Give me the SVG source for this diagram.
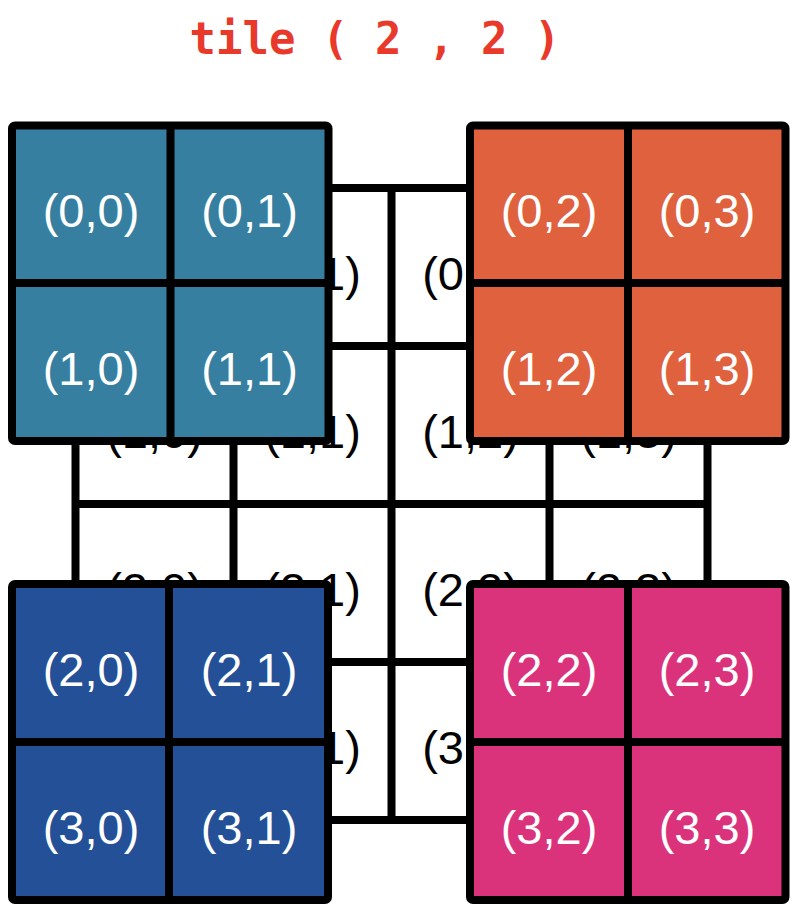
<svg xmlns="http://www.w3.org/2000/svg" width="800" height="918" viewBox="0 0 800 918">
<style>
.title{font-family:"DejaVu Sans Mono","Liberation Mono",monospace;font-weight:bold;font-size:44px;fill:#e8392b;text-anchor:middle}
.lbl{font-family:"Liberation Sans",Arial,sans-serif;font-size:47px;text-anchor:middle}
.bg{fill:#000}
.w{fill:#fff}
.grid{fill:none;stroke:#000;stroke-width:8;stroke-linecap:square}
.tile{stroke:#000;stroke-width:8;stroke-linejoin:round}
.inner{stroke:#000;stroke-width:8;fill:none}
</style>
<rect width="800" height="918" fill="#fff"/>
<text class="title" x="375" y="54" xml:space="preserve">tile ( 2 , 2 )</text>
<g id="background-grid">
<path class="grid" d="M75.5,188H707.5V820H75.5Z M233.5,188V820 M391.5,188V820 M549.5,188V820 M75.5,346H707.5 M75.5,504H707.5 M75.5,662H707.5"/>
<g class="lbl bg">
<text x="154.5" y="290">(0,0)</text><text x="312.5" y="290">(0,1)</text><text x="470.5" y="290">(0,2)</text><text x="628.5" y="290">(0,3)</text>
<text x="154.5" y="448">(1,0)</text><text x="312.5" y="448">(1,1)</text><text x="470.5" y="448">(1,2)</text><text x="628.5" y="448">(1,3)</text>
<text x="154.5" y="606">(2,0)</text><text x="312.5" y="606">(2,1)</text><text x="470.5" y="606">(2,2)</text><text x="628.5" y="606">(2,3)</text>
<text x="154.5" y="764">(3,0)</text><text x="312.5" y="764">(3,1)</text><text x="470.5" y="764">(3,2)</text><text x="628.5" y="764">(3,3)</text>
</g>
</g>
<g id="connectors"></g>
<g id="tile-0-0">
<rect class="tile" x="12" y="125.5" width="316.5" height="315.5" rx="3" fill="#367fa1"/>
<path class="inner" d="M170.5,125.5V441 M12,283H328.5"/>
<g class="lbl w"><text x="91" y="227">(0,0)</text><text x="249.5" y="227">(0,1)</text><text x="91" y="385">(1,0)</text><text x="249.5" y="385">(1,1)</text></g>
</g>
<g id="tile-0-1">
<rect class="tile" x="470" y="125.5" width="315.5" height="315.5" rx="3" fill="#e0613e"/>
<path class="inner" d="M628,125.5V441 M470,283H785.5"/>
<g class="lbl w"><text x="549" y="227">(0,2)</text><text x="707" y="227">(0,3)</text><text x="549" y="385">(1,2)</text><text x="707" y="385">(1,3)</text></g>
</g>
<g id="tile-1-0">
<rect class="tile" x="12" y="584" width="316" height="316" rx="3" fill="#235096"/>
<path class="inner" d="M169,584V900 M12,742H328"/>
<g class="lbl w"><text x="91" y="686">(2,0)</text><text x="249" y="686">(2,1)</text><text x="91" y="844">(3,0)</text><text x="249" y="844">(3,1)</text></g>
</g>
<g id="tile-1-1">
<rect class="tile" x="470" y="584" width="315.5" height="316" rx="3" fill="#da337c"/>
<path class="inner" d="M628,584V900 M470,742H785.5"/>
<g class="lbl w"><text x="549" y="686">(2,2)</text><text x="707" y="686">(2,3)</text><text x="549" y="844">(3,2)</text><text x="707" y="844">(3,3)</text></g>
</g>
</svg>
